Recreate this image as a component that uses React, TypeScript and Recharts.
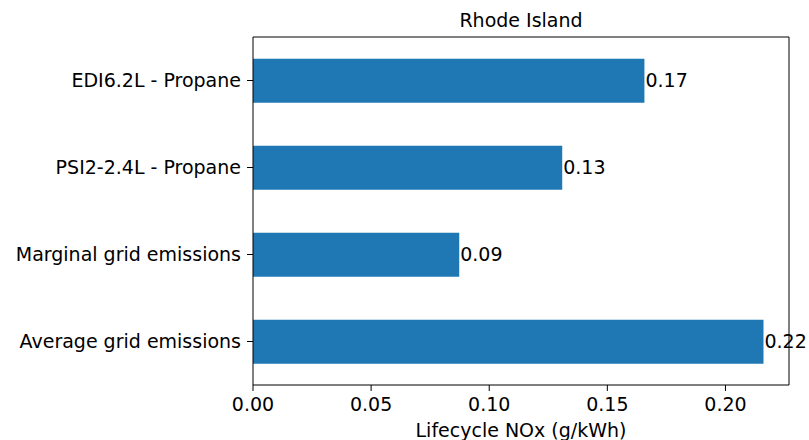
import React from "react";
import { BarChart, Bar, XAxis, YAxis, LabelList } from "recharts";

const categories = [
  "EDI6.2L - Propane",
  "PSI2-2.4L - Propane",
  "Marginal grid emissions",
  "Average grid emissions",
];
const noxValues = [0.1657, 0.1309, 0.0873, 0.2161];
const xTicks = [0, 0.05, 0.1, 0.15, 0.2];
const title = "Rhode Island";
const xLabel = "Lifecycle NOx (g/kWh)";

const data = categories.map((name, i) => ({ name, value: noxValues[i] }));

const FONT = "'DejaVu Sans', sans-serif";
const FS = 19;
const X_MAX = 0.2269;

export default function App() {
  return (
    <div style={{ position: "absolute", left: 0, top: 0, width: 809, height: 440, background: "#fff", fontFamily: FONT }}>
      <BarChart
        width={809}
        height={440}
        data={data}
        layout="vertical"
        margin={{ top: 36, right: 19, bottom: 0, left: 0 }}
        barCategoryGap="25%"
      >
        <XAxis
          type="number"
          domain={[0, X_MAX]}
          ticks={xTicks}
          tickFormatter={(v: number) => v.toFixed(2)}
          tickSize={6}
          tickMargin={7}
          height={55}
          allowDataOverflow
          axisLine={{ stroke: "#000", strokeWidth: 1 }}
          tickLine={{ stroke: "#000" }}
          tick={{ fill: "#000", fontSize: FS, fontFamily: FONT }}
        />
        <XAxis
          xAxisId="top"
          orientation="top"
          type="number"
          domain={[0, X_MAX]}
          allowDataOverflow
          height={1}
          tick={false}
          tickLine={false}
          axisLine={{ stroke: "#000", strokeWidth: 1 }}
        />
        <YAxis
          type="category"
          dataKey="name"
          width={253}
          tickSize={6}
          tickMargin={6}
          axisLine={{ stroke: "#000", strokeWidth: 1 }}
          tickLine={{ stroke: "#000" }}
          tick={{ fill: "#000", fontSize: FS, fontFamily: FONT }}
        />
        <YAxis
          yAxisId="right"
          orientation="right"
          type="category"
          dataKey="name"
          width={1}
          tick={false}
          tickLine={false}
          axisLine={{ stroke: "#000", strokeWidth: 1 }}
        />
        <Bar dataKey="value" fill="#1f77b4" isAnimationActive={false}>
          <LabelList
            dataKey="value"
            position="right"
            offset={1}
            formatter={(v: number) => v.toFixed(2)}
            style={{ fill: "#000", fontSize: FS, fontFamily: FONT }}
          />
        </Bar>
      </BarChart>
      <div style={{ position: "absolute", left: 253, width: 536, top: 9, textAlign: "center", fontSize: FS, color: "#000", lineHeight: "22px" }}>
        {title}
      </div>
      <div style={{ position: "absolute", left: 253, width: 536, top: 419, textAlign: "center", fontSize: FS, color: "#000", lineHeight: "22px" }}>
        {xLabel}
      </div>
    </div>
  );
}
